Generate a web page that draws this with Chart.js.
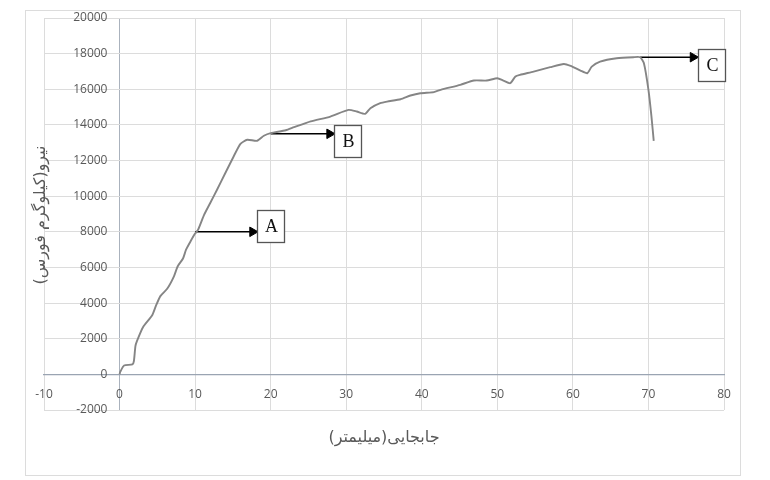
<!DOCTYPE html>
<html>
<head>
<meta charset="utf-8">
<script src="https://cdn.jsdelivr.net/npm/chart.js@4.4.1/dist/chart.umd.min.js"></script>
<style>
body { margin: 0; background: #fff; }
#frame { position: absolute; left: 25px; top: 10px; width: 714px; height: 464px; border: 1px solid #dcdcdc; }
#chart { position: absolute; left: 0; top: 0; }
</style>
</head>
<body>
<div id="frame"></div>
<canvas id="chart" width="770" height="480"></canvas>
<script>
// displacement (mm) vs force (kgf)
const displacement = [0, 0.1, 0.6, 1.7, 1.9, 2.1, 2.3, 3.1, 4.3, 4.8, 5.4, 6.3, 7.2, 7.7, 8.4, 8.8, 9.4, 10.0, 10.4, 11.2,
    12.0, 12.9, 14.0, 15.1, 16.0, 16.9, 18.2, 19.1, 20.0, 22.0, 23.1, 25.3, 27.9, 30.3, 31.4, 32.5, 33.2, 34.5, 35.4, 37.2,
    38.5, 39.8, 41.6, 42.5, 45.1, 46.9, 48.6, 50.0, 50.8, 51.7, 52.4, 53.0, 54.8, 57.0, 58.8, 59.7, 61.0, 61.9, 62.5, 63.6,
    65.8, 68.0, 68.9, 69.4, 70.0, 70.4, 70.7];
const force = [0, 150, 500, 560, 750, 1590, 1870, 2650, 3300, 3830, 4390, 4800, 5500, 6070, 6500, 7000, 7470, 7900, 8120, 8960,
    9620, 10360, 11300, 12230, 12940, 13165, 13110, 13390, 13540, 13700, 13875, 14200, 14470, 14845, 14750, 14620, 14940, 15220, 15310, 15440,
    15650, 15780, 15840, 15970, 16250, 16490, 16490, 16620, 16490, 16340, 16720, 16810, 16990, 17240, 17420, 17310, 17050, 16900, 17270, 17550,
    17740, 17800, 17800, 17460, 15970, 14470, 13100];

const xTickValues = [-10, 0, 10, 20, 30, 40, 50, 60, 70, 80];
const yTickValues = [-2000, 0, 2000, 4000, 6000, 8000, 10000, 12000, 14000, 16000, 18000, 20000];
const xTitle = 'جابجایی(میلیمتر)';
const yTitle = 'نیرو(کیلوگرم فورس)';

// callouts: arrow from the curve to a lettered box
const calloutLabels = ['A', 'B', 'C'];
const calloutStartX = [10, 20, 68.9];
const calloutY = [8000, 13500, 17800];
const calloutHeadX = [17.6, 27.8, 75.9];
const calloutBoxX = [18.2, 28.4, 76.6];
const calloutBoxY = [8310, 13120, 17370];

const ticksFrom = values => axis => { axis.ticks = values.map(v => ({value: v})); };

const calloutBoxes = {
    id: 'calloutBoxes',
    afterDatasetsDraw(chart) {
        const ctx = chart.ctx;
        const {x, y} = chart.scales;
        ctx.save();
        calloutLabels.forEach((label, i) => {
            const left = Math.round(x.getPixelForValue(calloutBoxX[i])) + 0.5;
            const cy = Math.round(y.getPixelForValue(calloutBoxY[i])) + 0.5;
            ctx.fillStyle = '#fff';
            ctx.fillRect(left, cy - 16, 27, 32);
            ctx.strokeStyle = '#555';
            ctx.lineWidth = 1.3;
            ctx.strokeRect(left, cy - 16, 27, 32);
            ctx.fillStyle = '#111';
            ctx.font = '18px "Liberation Serif", serif';
            ctx.textAlign = 'center';
            ctx.textBaseline = 'middle';
            ctx.fillText(label, left + 14, cy + 1);
        });
        ctx.restore();
    }
};

const axisTitles = {
    id: 'axisTitles',
    afterDraw(chart) {
        const ctx = chart.ctx;
        const area = chart.chartArea;
        ctx.save();
        ctx.fillStyle = '#595959';
        ctx.font = '16px "DejaVu Sans", sans-serif';
        ctx.direction = 'rtl';
        ctx.textAlign = 'center';
        ctx.textBaseline = 'middle';
        ctx.fillText(xTitle, (area.left + area.right) / 2, 438);
        ctx.translate(41, 215);
        ctx.rotate(-Math.PI / 2);
        ctx.fillText(yTitle, 0, 0);
        ctx.restore();
    }
};

function makeArrowDatasets() {
    return calloutLabels.map((label, i) => ({
        label: 'arrow ' + label,
        data: [{x: calloutStartX[i], y: calloutY[i]}, {x: calloutHeadX[i], y: calloutY[i]}],
        borderColor: '#000',
        borderWidth: 1.6,
        pointRadius: [0, 5.5],
        pointStyle: 'triangle',
        pointRotation: 90,
        pointBackgroundColor: '#000',
        pointBorderColor: '#000',
        pointBorderWidth: 1
    }));
}

Chart.defaults.font.family = '"Open Sans", sans-serif';
Chart.defaults.font.size = 12;
Chart.defaults.color = '#595959';

new Chart(document.getElementById('chart'), {
    type: 'line',
    data: {
        datasets: [{
            label: 'force',
            data: displacement.map((d, i) => ({x: d, y: force[i]})),
            borderColor: '#858585',
            borderWidth: 1.9,
            pointRadius: 0,
            tension: 0.2
        }].concat(makeArrowDatasets())
    },
    options: {
        responsive: false,
        animation: false,
        layout: {padding: {left: 44, top: 18, right: 46, bottom: 70}},
        plugins: {legend: {display: false}, tooltip: {enabled: false}},
        scales: {
            x: {
                type: 'linear',
                position: {y: 0},
                min: -10,
                max: 80,
                afterBuildTicks: ticksFrom(xTickValues),
                ticks: {callback: v => String(v), padding: 5},
                // the x = 0 gridline doubles as the vertical axis line
                grid: {color: c => c.tick && c.tick.value === 0 ? '#aab2bd' : '#dcdcdc', tickLength: 8},
                border: {color: '#9aa4b2', width: 1.2}
            },
            y: {
                type: 'linear',
                // labels sit just left of the x = 0 axis line
                position: {x: -1.6},
                min: -2000,
                max: 20000,
                afterBuildTicks: ticksFrom(yTickValues),
                ticks: {callback: v => String(v)},
                grid: {color: '#dcdcdc', drawTicks: false},
                border: {display: false}
            }
        }
    },
    plugins: [calloutBoxes, axisTitles]
});
</script>
</body>
</html>
